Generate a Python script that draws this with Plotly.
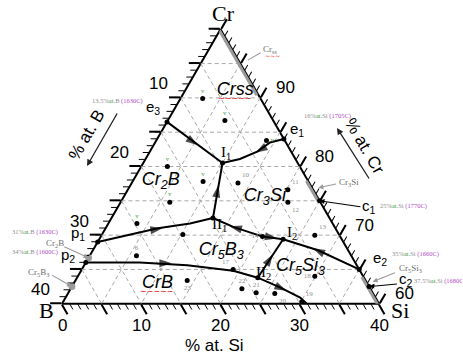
import math
import plotly.graph_objects as go

SANS = "Arial, 'Liberation Sans', sans-serif"
SERIF = "'Times New Roman', 'Liberation Serif', serif"
BAND_GREY = "#9a9a9a"
GRID_GREY = "#a8a8a8"
NOTE_GREY = "#8e8e8e"
NOTE_MAGENTA = "#b04cc4"
TAG_GREY = "#6e6e6e"
SQUIGGLE_RED = "#e02020"

FIG_W, FIG_H = 463, 364
DOM_X = [62 / FIG_W, 379 / FIG_W]
DOM_Y = [60 / FIG_H, 335 / FIG_H]
CR_MIN = 60

# ---------------- compositions, at.% (Cr, B, Si) ----------------
grid_levels = [5, 10, 15, 20, 25, 30, 35]

# tick labels: %B on the Cr-B edge, %Cr on the Cr-Si edge, %Si on the bottom
b_edge_labels = [10, 20, 30, 40]
cr_edge_labels = [90, 80, 70, 60]
si_edge_labels = [0, 10, 20, 30, 40]

# invariant points
inv_names = ["e3", "e1", "c1", "e2", "c2", "p1", "p2", "I1", "II1", "I2", "II2"]
inv_cr = [86.5, 84.0, 75.0, 65.0, 62.5, 69.0, 66.0, 80.5, 72.5, 69.4, 63.8]
inv_b = [13.5, 0.0, 0.0, 0.0, 0.0, 31.0, 34.0, 9.5, 14.7, 7.4, 13.4]
inv_si = [0.0, 16.0, 25.0, 35.0, 37.5, 0.0, 0.0, 10.0, 12.8, 23.2, 22.8]

# binary invariant temperatures, deg C (same order as the first seven points)
edge_temp = [1630, 1705, 1770, 1660, 1680, 1630, 1600]

# univariant boundary curves
curve_e3_I1 = {"cr": [86.5, 80.5], "b": [13.5, 9.5], "si": [0.0, 10.0]}
curve_e1_I1 = {"cr": [84.0, 83.5, 82.2, 81.1, 80.5],
               "b": [0.0, 2.0, 4.2, 7.0, 9.5],
               "si": [16.0, 14.5, 13.6, 11.9, 10.0]}
curve_II1_I1 = {"cr": [72.5, 80.5], "b": [14.7, 9.5], "si": [12.8, 10.0]}
curve_p1_II1 = {"cr": [69.0, 71.0, 71.7, 72.5],
                "b": [31.0, 22.4, 18.0, 14.7],
                "si": [0.0, 6.6, 10.3, 12.8]}
curve_II1_I2 = {"cr": [72.5, 71.2, 70.4, 69.8, 69.4],
                "b": [14.7, 12.8, 11.1, 9.8, 7.4],
                "si": [12.8, 16.0, 18.5, 20.4, 23.2]}
curve_e2_I2 = {"cr": [65.0, 67.8, 69.4], "b": [0.0, 3.8, 7.4], "si": [35.0, 28.4, 23.2]}
curve_II2_I2 = {"cr": [63.8, 69.4], "b": [13.4, 7.4], "si": [22.8, 23.2]}
curve_p2_II2 = {"cr": [66.0, 66.0, 65.6, 64.8, 63.8, 62.35, 60.9, 60.0],
                "b": [34.0, 27.2, 21.4, 16.0, 13.4, 11.3, 9.5, 9.1],
                "si": [0.0, 6.8, 13.0, 19.2, 22.8, 26.3, 29.6, 30.9]}
curves = [curve_e3_I1, curve_e1_I1, curve_II1_I1, curve_p1_II1,
          curve_II1_I2, curve_e2_I2, curve_II2_I2, curve_p2_II2]

# arrowheads on the curves (tail -> tip gives the direction)
arrow_tail_cr = [84.0, 82.9, 76.1, 70.7, 70.9, 69.8, 67.3, 66.15, 65.9, 62.6]
arrow_tail_b = [12.0, 2.8, 12.4, 23.6, 12.1, 9.3, 3.3, 10.9, 24.7, 11.7]
arrow_tail_si = [4.0, 14.3, 11.5, 5.7, 17.0, 20.9, 29.4, 22.95, 9.4, 25.7]
arrow_tip_cr = [83.1, 82.0, 77.3, 71.0, 71.3, 69.5, 68.1, 67.2, 65.9, 61.9]
arrow_tip_b = [11.3, 4.6, 11.6, 21.8, 13.2, 8.1, 4.3, 9.8, 23.2, 10.7]
arrow_tip_si = [5.6, 13.4, 11.1, 7.2, 15.5, 22.4, 27.6, 23.0, 10.9, 27.4]

# studied alloys
alloy_cr = [89.9, 86.7, 83.8, 80.0, 77.8, 77.6, 76.6, 74.8, 74.8, 71.7, 70.1,
            67.0, 69.8, 70.0, 63.4, 65.0, 62.2, 61.6, 61.5, 64.0, 60.3]
alloy_b = [7.3, 6.1, 2.3, 16.7, 13.3, 9.0, 3.2, 4.1, 19.0, 24.7, 19.7,
           27.1, 9.8, 3.1, 22.5, 15.9, 16.2, 14.7, 12.4, 6.1, 9.6]
alloy_si = [2.8, 7.2, 13.9, 3.3, 8.9, 13.4, 20.2, 21.1, 6.2, 3.6, 10.2,
            5.9, 20.4, 26.9, 14.1, 19.1, 21.6, 23.7, 26.1, 29.9, 30.1]
alloy_no = ["v", "v", "v", "v", "v", "10", "11", "12", "v", "v", "",
            "6", "14", "13", "23", "17", "22", "21", "20", "18", "19"]
alloy_no_pos = ["top center", "top center", "middle right", "top center", "top center",
                "top right", "top right", "bottom right", "top center", "top center", "top center",
                "top center", "middle left", "top right", "bottom center", "top left", "top center",
                "top center", "bottom right", "middle left", "top right"]
alloy_no_color = ["#3aa03a" if t == "v" else NOTE_GREY for t in alloy_no]

# primary crystallisation fields
field_text = ["<i>Crss</i>", "<i>Cr<sub>2</sub>B</i>", "<i>Cr<sub>3</sub>Si</i>",
              "<i>Cr<sub>5</sub>B<sub>3</sub></i>", "<i>Cr<sub>5</sub>Si<sub>3</sub></i>", "<i>CrB</i>"]
field_cr = [91.1, 77.9, 75.6, 67.8, 65.4, 62.9]
field_b = [2.6, 18.6, 6.6, 16.0, 7.2, 26.5]
field_si = [6.3, 3.5, 17.8, 16.2, 27.4, 10.6]

# homogeneity ranges on the Cr-Si edge (at.% Si)
band_si_from = [0.0, 22.0, 36.0]
band_si_to = [9.5, 25.0, 40.0]
# borides on the Cr-B edge (at.% B): Cr2B, Cr5B3
boride_b = [33.3, 37.5]

# phase name tags outside the triangle
tag_text = ["Cr<sub>ss</sub>", "Cr<sub>3</sub>Si", "Cr<sub>2</sub>B",
            "Cr<sub>5</sub>B<sub>3</sub>", "Cr<sub>5</sub>Si<sub>3</sub>"]
tag_cr = [97.1, 77.6, 68.8, 64.55, 65.1]
tag_b = [-4.8, -5.0, 36.5, 40.6, -6.5]
tag_si = [7.7, 27.4, -5.3, -5.2, 41.4]
# leader lines: from the tag / label towards the phase or point
lead_from_cr = [96.7, 77.5, 68.4, 64.3, 64.6, 74.1, 62.9]
lead_from_b = [-3.6, -3.5, 35.7, 39.3, -4.5, -4.9, -3.9]
lead_from_si = [6.9, 26.0, -4.1, -3.6, 39.9, 30.8, 41.0]
lead_to_cr = [95.5, 76.9, 66.7, 62.5, 63.2, 75.0, 62.5]
lead_to_b = [-1.2, -0.8, 33.3, 37.5, -0.8, 0.0, 0.0]
lead_to_si = [5.7, 23.9, 0.0, 0.0, 37.6, 25.0, 37.5]
lead_color = [BAND_GREY] * 5 + ["black", "black"]
lead_head = [0, 2, 2, 2, 2, 2, 2]

# invariant point label positions
lbl_cr = [88.6, 85.4, 74.2, 66.6, 63.6, 70.3, 67.0, 82.0, 71.45, 70.3, 64.5]
lbl_b = [14.2, -2.4, -5.9, -3.4, -5.2, 32.8, 35.8, 8.3, 14.35, 5.8, 12.3]
lbl_si = [-2.8, 17.0, 31.7, 36.8, 41.6, -3.1, -2.8, 9.7, 14.2, 23.9, 23.2]

# composition / temperature note positions for the binary points
note_cr = [89.5, 87.3, 74.2, 67.2, 63.3, 70.4, 67.5]
note_b = [18.2, -7.2, -7.0, -5.0, -5.8, 35.1, 36.5]
note_si = [-7.7, 19.9, 32.8, 37.8, 42.5, -5.5, -4.0]
note_anchor = ["center", "center", "left", "left", "left", "right", "right"]


def tern(**kw):
    base = dict(hoverinfo="skip", showlegend=False)
    base.update(kw)
    return go.Scatterternary(**base)


def to_px(cr, b, si):
    """Pixel position of a composition inside the ternary domain."""
    wmax = (DOM_X[1] - DOM_X[0]) * FIG_W
    hmax = (DOM_Y[1] - DOM_Y[0]) * FIG_H
    w_over_h = 2 / math.sqrt(3)
    if wmax > w_over_h * hmax:
        h = hmax
        w = h * w_over_h
    else:
        w = wmax
        h = w / w_over_h
    x0 = FIG_W * (DOM_X[0] + DOM_X[1]) / 2 - w / 2
    y0 = FIG_H * (1 - (DOM_Y[0] + DOM_Y[1]) / 2) - h / 2
    span = 100 - CR_MIN
    t = (cr - CR_MIN) / span
    return x0 + w * (si / span + t / 2), y0 + h * (1 - t)


annotations = []


def label(px, py, text, size, family, color="black", xanchor="center", **kw):
    annotations.append(dict(x=px / FIG_W, y=1 - py / FIG_H, xref="paper", yref="paper",
                            text=text, showarrow=False, xanchor=xanchor, yanchor="middle",
                            font=dict(family=family, size=size, color=color), **kw))


def sub_label(name):
    if name.startswith("II"):
        return "II<sub>%s</sub>" % name[2:]
    if name.startswith("I"):
        return "I<sub>%s</sub>" % name[1:]
    return "%s<sub>%s</sub>" % (name[0], name[1:])


fig = go.Figure()

# dashed composition grid, every 5 at.%
g_cr, g_b, g_si = [], [], []
for v in grid_levels:
    for seg in (((100 - v, v, 0), (100 - v, 0, v)),
                ((100 - v, v, 0), (CR_MIN, v, 100 - CR_MIN - v)),
                ((100 - v, 0, v), (CR_MIN, 100 - CR_MIN - v, v))):
        for p in seg:
            g_cr.append(p[0]); g_b.append(p[1]); g_si.append(p[2])
        g_cr.append(None); g_b.append(None); g_si.append(None)
fig.add_trace(tern(a=g_cr, b=g_b, c=g_si, mode="lines",
                   line=dict(color=GRID_GREY, width=1, dash="4px,3px")))

# homogeneity bands along the Cr-Si edge
for s0, s1 in zip(band_si_from, band_si_to):
    fig.add_trace(tern(a=[100 - s0, 100 - s1], b=[0, 0], c=[s0, s1], mode="lines",
                       line=dict(color=BAND_GREY, width=6)))

# boundary curves
for cv in curves:
    fig.add_trace(tern(a=cv["cr"], b=cv["b"], c=cv["si"], mode="lines",
                       line=dict(color="black", width=2)))

# arrowheads
for i in range(len(arrow_tip_cr)):
    fig.add_trace(tern(a=[arrow_tail_cr[i], arrow_tip_cr[i]],
                       b=[arrow_tail_b[i], arrow_tip_b[i]],
                       c=[arrow_tail_si[i], arrow_tip_si[i]],
                       mode="markers",
                       marker=dict(symbol="arrow", size=[0, 13], angleref="previous",
                                   color="black", line=dict(width=0))))

# alloys
fig.add_trace(tern(a=alloy_cr, b=alloy_b, c=alloy_si, mode="markers+text",
                   marker=dict(size=5, color="black"),
                   text=alloy_no, textposition=alloy_no_pos,
                   textfont=dict(family=SERIF, size=7, color=alloy_no_color)))

# borides on the Cr-B edge
fig.add_trace(tern(a=[100 - v for v in boride_b], b=boride_b, c=[0] * len(boride_b),
                   mode="markers", marker=dict(size=7, color=BAND_GREY), cliponaxis=False))

# invariant points
fig.add_trace(tern(a=inv_cr, b=inv_b, c=inv_si, mode="markers",
                   marker=dict(size=5, color="black"), cliponaxis=False))

# primary fields
fig.add_trace(tern(a=field_cr, b=field_b, c=field_si, mode="text", text=field_text,
                   textposition="middle center",
                   textfont=dict(family=SANS, size=18, color="black")))

# invisible anchor for the minor-tick overlay
fig.add_trace(tern(a=[100], b=[0], c=[0], mode="markers", subplot="ternary2",
                   marker=dict(size=1, opacity=0)))

# red spell-check squiggles under two field names
for k in (0, 5):
    fx, fy = to_px(field_cr[k], field_b[k], field_si[k])
    label(fx, fy + 8, "\u223c\u223c\u223c\u223c\u223c", 8, "DejaVu Sans", color=SQUIGGLE_RED)

# tick labels
for v in b_edge_labels:
    px, py = to_px(100 - v, v, 0)
    label(px - 22, py - 14, str(v), 17, SANS)
for v in cr_edge_labels:
    px, py = to_px(v, 0, 100 - v)
    label(px + 25, py - 10, str(v), 17, SANS)
for v in si_edge_labels:
    px, py = to_px(CR_MIN, 100 - CR_MIN - v, v)
    label(px, py + 22, str(v), 17, SANS)

# invariant point labels
for i, name in enumerate(inv_names):
    px, py = to_px(lbl_cr[i], lbl_b[i], lbl_si[i])
    serif = name.startswith("I")
    label(px, py, sub_label(name), 15, SERIF if serif else SANS)

# composition / temperature notes
for i in range(len(edge_temp)):
    if inv_b[i] > 0:
        head = "%g%%<span style='color:#3aa03a'>at</span>.B" % inv_b[i]
    else:
        head = "%g%%<span style='color:#3aa03a'>at</span>.Si" % inv_si[i]
    txt = "%s <span style='color:%s'>(%dC)</span>" % (head, NOTE_MAGENTA, edge_temp[i])
    px, py = to_px(note_cr[i], note_b[i], note_si[i])
    label(px, py, txt, 6.5, SERIF, color=NOTE_GREY, xanchor=note_anchor[i])

# phase name tags
for i, txt in enumerate(tag_text):
    px, py = to_px(tag_cr[i], tag_b[i], tag_si[i])
    label(px, py, txt, 9, SERIF, color=TAG_GREY)
px, py = to_px(tag_cr[0], tag_b[0], tag_si[0])
label(px + 2, py + 6, "\u223c\u223c\u223c", 6, "DejaVu Sans", color=SQUIGGLE_RED)

# leader arrows
for i in range(len(lead_to_cr)):
    hx, hy = to_px(lead_to_cr[i], lead_to_b[i], lead_to_si[i])
    tx, ty = to_px(lead_from_cr[i], lead_from_b[i], lead_from_si[i])
    annotations.append(dict(x=hx / FIG_W, y=1 - hy / FIG_H, xref="paper", yref="paper",
                            ax=tx - hx, ay=ty - hy, text="", showarrow=True,
                            arrowhead=lead_head[i], arrowsize=0.9, arrowwidth=1.1,
                            arrowcolor=lead_color[i]))

# corner names
for txt, cr, b, si, dx, dy in (("Cr", 100, 0, 0, 3, -16),
                              ("B", CR_MIN, 100 - CR_MIN, 0, -16, 7),
                              ("Si", CR_MIN, 0, 100 - CR_MIN, 21, 7)):
    px, py = to_px(cr, b, si)
    label(px + dx, py + dy, txt, 22, SERIF)

# axis captions with direction arrows
label(86, 135, "% at. B", 17, SANS, textangle=-60)
label(365, 146, "% at. Cr", 17, SANS, textangle=60)
label(214, 345, "% at. Si", 17, SANS)
for hx, hy, tx, ty in ((87, 166, 118, 112), (337, 128, 370, 180)):
    annotations.append(dict(x=hx / FIG_W, y=1 - hy / FIG_H, xref="paper", yref="paper",
                            ax=tx - hx, ay=ty - hy, text="", showarrow=True,
                            arrowhead=2, arrowsize=1, arrowwidth=1.3, arrowcolor="#222"))

major = dict(showline=True, linecolor="black", linewidth=2, ticks="outside", ticklen=11,
             tickwidth=1.5, tickcolor="black", showgrid=False, showticklabels=False,
             layer="below traces", tickmode="array", title=dict(text=""))
minor = dict(showline=False, ticks="outside", ticklen=6, tickwidth=1.3, tickcolor="black",
             showgrid=False, showticklabels=False, tickmode="array", title=dict(text=""))

fig.update_layout(
    width=FIG_W, height=FIG_H,
    margin=dict(l=0, r=0, t=0, b=0),
    paper_bgcolor="white",
    hovermode=False,
    annotations=annotations,
    ternary=dict(
        sum=100, bgcolor="white", domain=dict(x=DOM_X, y=DOM_Y),
        aaxis=dict(min=CR_MIN, tickvals=list(range(60, 101, 5)), **major),
        baxis=dict(min=0, tickvals=list(range(0, 41, 5)), **major),
        caxis=dict(min=0, tickvals=list(range(0, 41, 5)), **major),
    ),
    ternary2=dict(
        sum=100, bgcolor="rgba(0,0,0,0)", domain=dict(x=DOM_X, y=DOM_Y),
        aaxis=dict(min=CR_MIN, tickvals=list(range(60, 101)), **minor),
        baxis=dict(min=0, tickvals=list(range(0, 41)), **minor),
        caxis=dict(min=0, tickvals=list(range(0, 41)), **minor),
    ),
)

fig.write_html("out.html", config={"displayModeBar": False})
